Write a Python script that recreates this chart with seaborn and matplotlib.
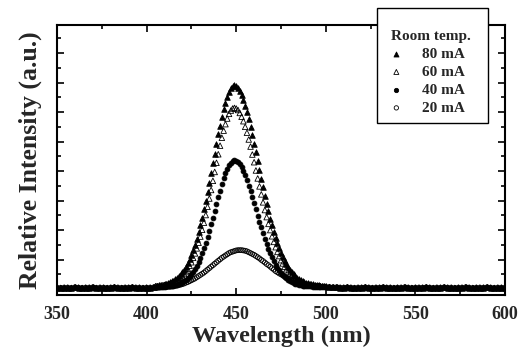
import matplotlib
matplotlib.use("Agg")
import matplotlib.pyplot as plt
import matplotlib.patches as mpatches
import seaborn as sns
from matplotlib.ticker import MultipleLocator

# ---------------- data ----------------
wl_left = list(range(350, 405, 2))     # 350..404 nm, baseline region
wl_peak = list(range(405, 501))        # 405..500 nm, emission band
wl_right = list(range(502, 601, 2))    # 502..600 nm, baseline region

base_left = [0.05, 0.04, 0.05, 0.05, 0.04, 0.06, 0.05, 0.04, 0.05, 0.05,
             0.06, 0.04, 0.05, 0.05, 0.04, 0.05, 0.06, 0.05, 0.04, 0.05,
             0.05, 0.06, 0.05, 0.05, 0.04, 0.05, 0.05, 0.06]
base_right = [0.07, 0.06, 0.06, 0.05, 0.05, 0.06, 0.05, 0.04, 0.05, 0.05,
              0.06, 0.05, 0.04, 0.05, 0.05, 0.06, 0.05, 0.05, 0.04, 0.05,
              0.05, 0.06, 0.05, 0.04, 0.05, 0.05, 0.05, 0.06, 0.05, 0.04,
              0.05, 0.05, 0.06, 0.05, 0.05, 0.04, 0.05, 0.05, 0.06, 0.05,
              0.04, 0.05, 0.05, 0.05, 0.06, 0.05, 0.04, 0.05, 0.05, 0.05]

i_80mA = [0.11, 0.12, 0.13, 0.14, 0.15, 0.17, 0.18, 0.20, 0.23, 0.26,
          0.29, 0.33, 0.38, 0.43, 0.50, 0.57, 0.66, 0.76, 0.88, 1.01,
          1.16, 1.32, 1.50, 1.71, 1.93, 2.17, 2.42, 2.70, 2.99, 3.30,
          3.61, 3.93, 4.26, 4.59, 4.92, 5.24, 5.54, 5.83, 6.09, 6.32,
          6.52, 6.69, 6.80, 6.87, 6.90, 6.88, 6.82, 6.72, 6.58, 6.42,
          6.22, 6.00, 5.76, 5.50, 5.22, 4.93, 4.64, 4.33, 4.04, 3.74,
          3.45, 3.17, 2.90, 2.64, 2.39, 2.16, 1.94, 1.74, 1.55, 1.38,
          1.23, 1.08, 0.96, 0.84, 0.75, 0.66, 0.57, 0.51, 0.45, 0.39,
          0.35, 0.31, 0.28, 0.25, 0.22, 0.20, 0.18, 0.17, 0.16, 0.15,
          0.14, 0.13, 0.12, 0.11, 0.10, 0.10]
i_60mA = [0.10, 0.10, 0.11, 0.12, 0.13, 0.14, 0.15, 0.16, 0.18, 0.20,
          0.22, 0.25, 0.29, 0.33, 0.39, 0.44, 0.51, 0.60, 0.69, 0.79,
          0.91, 1.06, 1.21, 1.38, 1.57, 1.78, 2.01, 2.25, 2.51, 2.79,
          3.07, 3.36, 3.67, 3.97, 4.28, 4.57, 4.86, 5.13, 5.37, 5.59,
          5.78, 5.94, 6.05, 6.12, 6.14, 6.12, 6.07, 5.97, 5.84, 5.69,
          5.50, 5.30, 5.07, 4.83, 4.56, 4.30, 4.02, 3.75, 3.48, 3.21,
          2.94, 2.68, 2.44, 2.21, 2.00, 1.79, 1.60, 1.42, 1.26, 1.12,
          0.98, 0.87, 0.76, 0.67, 0.58, 0.51, 0.45, 0.39, 0.34, 0.30,
          0.27, 0.24, 0.21, 0.19, 0.17, 0.16, 0.15, 0.14, 0.13, 0.12,
          0.11, 0.11, 0.10, 0.09, 0.09, 0.08]
i_40mA = [0.06, 0.06, 0.07, 0.07, 0.08, 0.08, 0.09, 0.09, 0.10, 0.11,
          0.12, 0.14, 0.15, 0.17, 0.20, 0.23, 0.27, 0.31, 0.36, 0.43,
          0.50, 0.58, 0.68, 0.79, 0.91, 1.05, 1.21, 1.38, 1.56, 1.76,
          1.97, 2.19, 2.42, 2.65, 2.88, 3.11, 3.33, 3.55, 3.75, 3.92,
          4.08, 4.20, 4.29, 4.35, 4.37, 4.35, 4.31, 4.23, 4.13, 4.00,
          3.86, 3.69, 3.51, 3.32, 3.12, 2.91, 2.70, 2.49, 2.29, 2.09,
          1.89, 1.71, 1.53, 1.37, 1.22, 1.08, 0.95, 0.83, 0.73, 0.64,
          0.55, 0.48, 0.42, 0.36, 0.32, 0.28, 0.24, 0.21, 0.18, 0.16,
          0.14, 0.13, 0.12, 0.11, 0.10, 0.10, 0.09, 0.09, 0.08, 0.08,
          0.07, 0.07, 0.07, 0.06, 0.06, 0.06]
i_20mA = [0.05, 0.05, 0.05, 0.06, 0.06, 0.07, 0.07, 0.08, 0.08, 0.09,
          0.10, 0.11, 0.12, 0.14, 0.15, 0.17, 0.19, 0.22, 0.24, 0.27,
          0.30, 0.33, 0.36, 0.40, 0.44, 0.48, 0.52, 0.56, 0.61, 0.66,
          0.71, 0.76, 0.81, 0.86, 0.91, 0.96, 1.01, 1.06, 1.10, 1.14,
          1.18, 1.22, 1.25, 1.27, 1.29, 1.31, 1.32, 1.32, 1.32, 1.31,
          1.30, 1.28, 1.25, 1.22, 1.19, 1.16, 1.12, 1.08, 1.04, 0.99,
          0.95, 0.90, 0.85, 0.81, 0.76, 0.71, 0.66, 0.61, 0.57, 0.53,
          0.50, 0.46, 0.42, 0.39, 0.36, 0.33, 0.31, 0.29, 0.27, 0.25,
          0.23, 0.21, 0.19, 0.17, 0.15, 0.14, 0.13, 0.12, 0.11, 0.10,
          0.09, 0.09, 0.08, 0.08, 0.07, 0.07]

labels = ["80 mA", "60 mA", "40 mA", "20 mA"]
series = [i_80mA, i_60mA, i_40mA, i_20mA]
legend_title = "Room temp."
x_ticks = [350, 400, 450, 500, 550, 600]

# ---------------- style ----------------
sns.set_style("ticks")
plt.rcParams["font.family"] = ["Liberation Serif", "DejaVu Serif"]
plt.rcParams["font.weight"] = "bold"

fig = plt.figure(figsize=(5.25, 3.53), dpi=100)
ax = fig.add_axes([57 / 525, 1 - 295 / 353, 448 / 525, 270 / 353])

marker_styles = {
    "80 mA": dict(marker="^", facecolor="black", s=16),
    "60 mA": dict(marker="^", facecolor="none", s=16),
    "40 mA": dict(marker="o", facecolor="black", s=12),
    "20 mA": dict(marker="o", facecolor="none", s=12),
}

x_all = wl_left + wl_peak + wl_right
handles = {}
for lab, vals in reversed(list(zip(labels, series))):
    y_all = base_left + vals + base_right
    st = marker_styles[lab]
    sns.scatterplot(x=x_all, y=y_all, ax=ax, color="black",
                    marker=st["marker"], s=st["s"], facecolor=st["facecolor"],
                    edgecolor="black", linewidth=0.6, legend=False, zorder=3)
    handles[lab] = ax.collections[-1]

ax.set_xlim(350, 600)
ax.set_ylim(-0.2, 8.95)
ax.set_xticks(x_ticks)
ax.xaxis.set_minor_locator(MultipleLocator(25))
ax.yaxis.set_major_locator(MultipleLocator(1))
ax.yaxis.set_minor_locator(MultipleLocator(0.5))
ax.tick_params(which="both", direction="in", top=True, right=True,
               labelleft=False, width=1.2, color="black")
ax.tick_params(which="major", length=5, pad=8, labelsize=13)
ax.tick_params(which="minor", length=3)
for lbl in ax.get_xticklabels():
    lbl.set_fontweight("bold")
for sp in ax.spines.values():
    sp.set_linewidth(1.5)
    sp.set_color("black")

ax.set_xlabel("Wavelength (nm)", fontsize=17.5, fontweight="bold", labelpad=2)
ax.set_ylabel("Relative Intensity (a.u.)", fontsize=18.5, fontweight="bold", labelpad=11)

# legend frame (extends above the axes, as in the reference)
frame = mpatches.Rectangle((377 / 525, 1 - 123 / 353), 111 / 525, 115 / 353,
                           transform=fig.transFigure, facecolor="white",
                           edgecolor="black", linewidth=1.0, clip_on=False,
                           zorder=4)
ax.add_patch(frame)

leg = ax.legend([handles[l] for l in labels], labels, title=legend_title,
                loc="upper left", bbox_to_anchor=(391 / 525, 1 - 30 / 353),
                bbox_transform=fig.transFigure, frameon=False,
                prop={"weight": "bold", "size": 11},
                title_fontproperties={"weight": "bold", "size": 11},
                handletextpad=1.3, labelspacing=0.28, borderpad=0,
                handlelength=0.7, markerscale=0.9, borderaxespad=0)
leg._legend_box.align = "left"
leg.set_zorder(5)

fig.savefig("out.png", dpi=100)
